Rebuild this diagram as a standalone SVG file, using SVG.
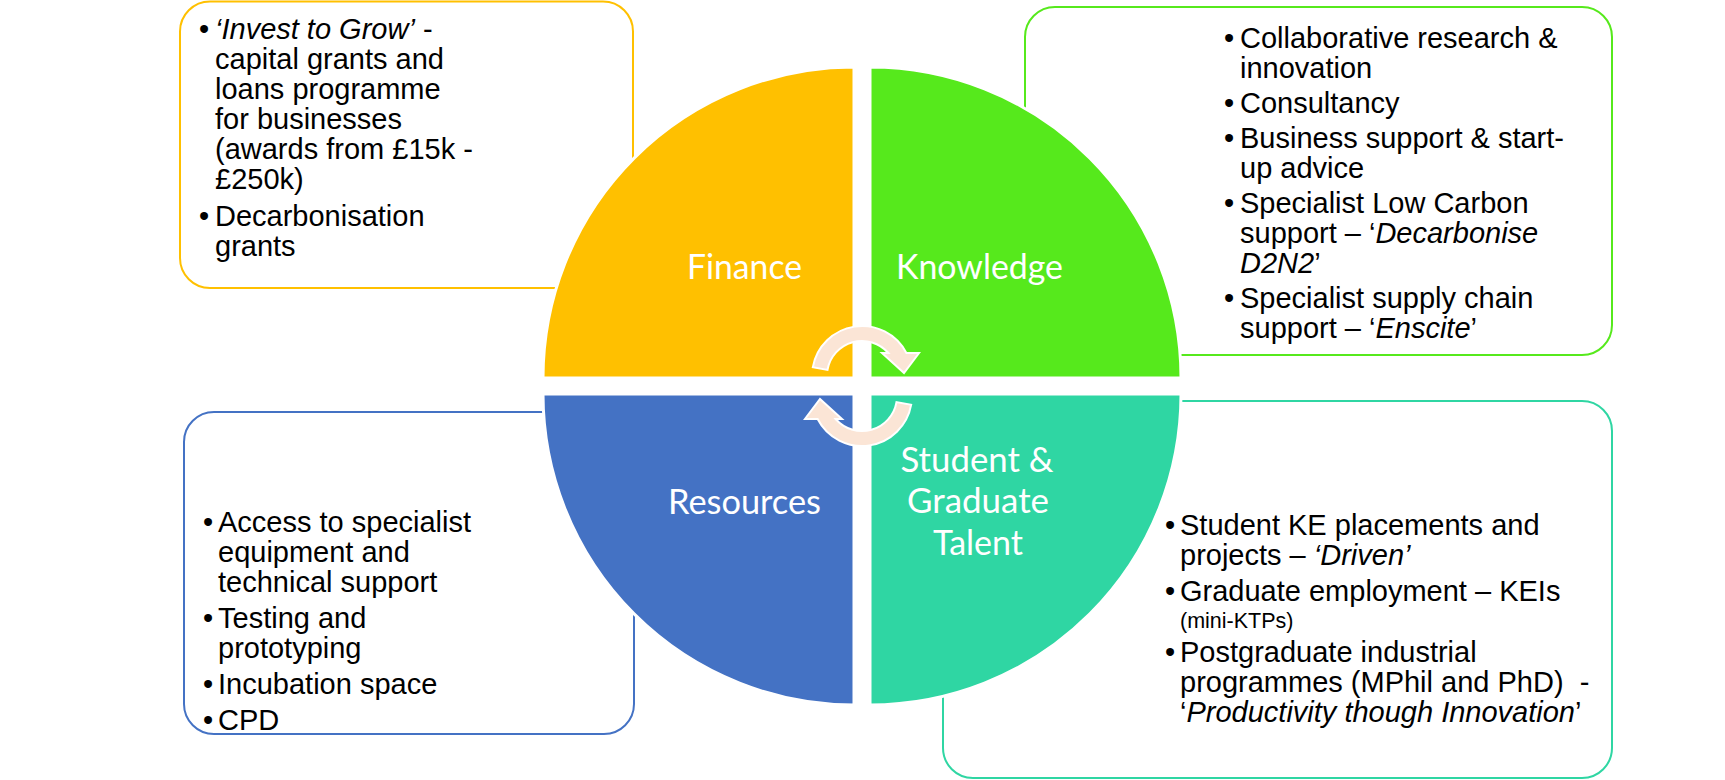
<svg xmlns="http://www.w3.org/2000/svg" width="1725" height="780" viewBox="0 0 1725 780">
<style>
.box{fill:#FFFFFF;stroke-width:2}
.q{stroke:#FFFFFF;stroke-width:3}
.lbl{font-family:Lato,"Noto Sans",sans-serif;font-size:34px;fill:#FFFFFF;text-anchor:middle}
.t{font-family:"Liberation Sans",Arial,sans-serif;font-size:29px;fill:#000000}
.i{font-style:italic}
.sm{font-size:21.5px}
.arr{fill:#FBE5D6;stroke:#FFFFFF;stroke-width:2;stroke-linejoin:miter}
</style>
<rect width="1725" height="780" fill="#FFFFFF"/>

<g id="finance-box">
<rect class="box" x="180" y="1.5" width="453" height="286.5" rx="30" ry="30" stroke="#FFC000"/>
<text class="t"><tspan x="199" y="39">•</tspan><tspan x="215" y="39" class="i">‘Invest to Grow’</tspan><tspan> -</tspan></text>
<text class="t" x="215" y="69">capital grants and</text>
<text class="t" x="215" y="99">loans programme</text>
<text class="t" x="215" y="129">for businesses</text>
<text class="t" x="215" y="159">(awards from £15k -</text>
<text class="t" x="215" y="189">£250k)</text>
<text class="t"><tspan x="199" y="226">•</tspan><tspan x="215" y="226">Decarbonisation</tspan></text>
<text class="t" x="215" y="256">grants</text>
</g>

<g id="knowledge-box">
<rect class="box" x="1025" y="7" width="587" height="348" rx="30" ry="30" stroke="#56E91C"/>
<text class="t"><tspan x="1224" y="48">•</tspan><tspan x="1240" y="48">Collaborative research &amp;</tspan></text>
<text class="t" x="1240" y="78">innovation</text>
<text class="t"><tspan x="1224" y="113">•</tspan><tspan x="1240" y="113">Consultancy</tspan></text>
<text class="t"><tspan x="1224" y="148">•</tspan><tspan x="1240" y="148">Business support &amp; start-</tspan></text>
<text class="t" x="1240" y="178">up advice</text>
<text class="t"><tspan x="1224" y="213">•</tspan><tspan x="1240" y="213">Specialist Low Carbon</tspan></text>
<text class="t" x="1240" y="243">support – ‘<tspan class="i">Decarbonise</tspan></text>
<text class="t" x="1240" y="273"><tspan class="i">D2N2</tspan>’</text>
<text class="t"><tspan x="1224" y="308">•</tspan><tspan x="1240" y="308">Specialist supply chain</tspan></text>
<text class="t" x="1240" y="338">support – ‘<tspan class="i">Enscite</tspan>’</text>
</g>

<g id="resources-box">
<rect class="box" x="184" y="412" width="450" height="322" rx="30" ry="30" stroke="#4472C4"/>
<text class="t"><tspan x="203" y="532">•</tspan><tspan x="218" y="532">Access to specialist</tspan></text>
<text class="t" x="218" y="562">equipment and</text>
<text class="t" x="218" y="592">technical support</text>
<text class="t"><tspan x="203" y="628">•</tspan><tspan x="218" y="628">Testing and</tspan></text>
<text class="t" x="218" y="658">prototyping</text>
<text class="t"><tspan x="203" y="694">•</tspan><tspan x="218" y="694">Incubation space</tspan></text>
<text class="t"><tspan x="203" y="730">•</tspan><tspan x="218" y="730">CPD</tspan></text>
</g>

<g id="talent-box">
<rect class="box" x="943" y="401" width="669" height="377" rx="30" ry="30" stroke="#2FD6A3"/>
<text class="t"><tspan x="1165" y="535">•</tspan><tspan x="1180" y="535">Student KE placements and</tspan></text>
<text class="t" x="1180" y="565">projects – <tspan class="i">‘Driven’</tspan></text>
<text class="t"><tspan x="1165" y="601">•</tspan><tspan x="1180" y="601">Graduate employment – KEIs</tspan></text>
<text class="t sm" x="1180" y="628">(mini-KTPs)</text>
<text class="t"><tspan x="1165" y="662">•</tspan><tspan x="1180" y="662">Postgraduate industrial</tspan></text>
<text class="t" x="1180" y="692" xml:space="preserve">programmes (MPhil and PhD)  -</text>
<text class="t" x="1180" y="722">‘<tspan class="i">Productivity though Innovation</tspan>’</text>
</g>

<g id="finance">
<path class="q" fill="#FFC000" d="M854 378 L543 378 A311 311 0 0 1 854 67 Z"/>
<text class="lbl" x="744.5" y="279" textLength="115" lengthAdjust="spacingAndGlyphs">Finance</text>
</g>
<g id="knowledge">
<path class="q" fill="#56E91C" d="M870 378 L870 67 A311 311 0 0 1 1181 378 Z"/>
<text class="lbl" x="979.5" y="279" textLength="167" lengthAdjust="spacingAndGlyphs">Knowledge</text>
</g>
<g id="resources">
<path class="q" fill="#4472C4" d="M854 394 L854 705 A311 311 0 0 1 543 394 Z"/>
<text class="lbl" x="744.5" y="514" textLength="153" lengthAdjust="spacingAndGlyphs">Resources</text>
</g>
<g id="talent">
<path class="q" fill="#2FD6A3" d="M870 394 L1181 394 A311 311 0 0 1 870 705 Z"/>
<text class="lbl" x="977" y="472" textLength="153" lengthAdjust="spacingAndGlyphs">Student &amp;</text>
<text class="lbl" x="978" y="513" textLength="142" lengthAdjust="spacingAndGlyphs">Graduate</text>
<text class="lbl" x="978" y="555" textLength="90" lengthAdjust="spacingAndGlyphs">Talent</text>
</g>

<g id="connectors">
<path class="arr" d="M812.8 367.3 A50 50 0 0 1 906.4 353 L919 353 L904 373 L882 353 L888.4 353 A35 35 0 0 0 827.5 369.9 Z"/>
<path class="arr" transform="rotate(180 862 386)" d="M812.8 367.3 A50 50 0 0 1 906.4 353 L919 353 L904 373 L882 353 L888.4 353 A35 35 0 0 0 827.5 369.9 Z"/>
</g>
</svg>
